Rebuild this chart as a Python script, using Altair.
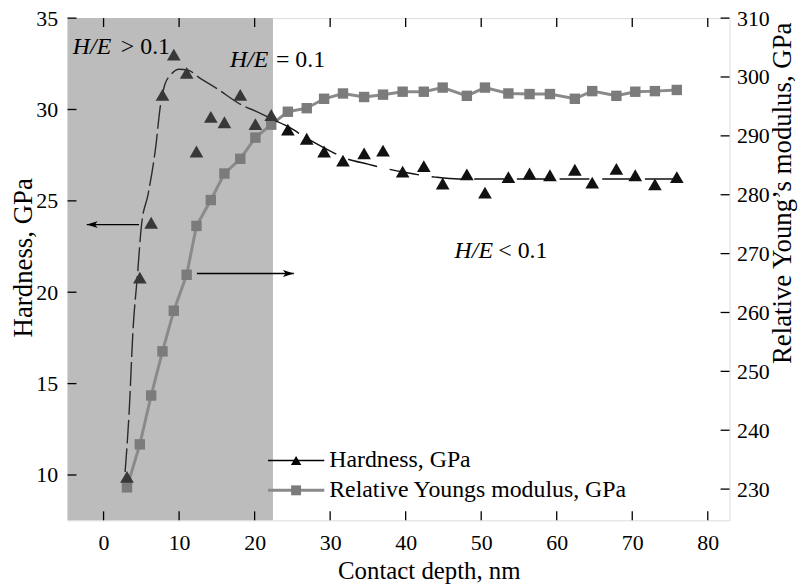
import altair as alt
import pandas as pd

# ---------------- data ----------------
depth = [3.1, 4.8, 6.3, 7.8, 9.3, 11.0, 12.3, 14.2, 16.0, 18.1, 20.1, 22.2,
         24.4, 26.9, 29.2, 31.7, 34.5, 37.0, 39.6, 42.4, 44.9, 48.1, 50.5,
         53.6, 56.4, 59.1, 62.4, 64.7, 67.9, 70.4, 73.0, 75.9]
hardness = [9.9, 20.8, 23.8, 30.8, 33.0, 32.0, 27.7, 29.6, 29.3, 30.8, 29.2, 29.7,
            28.9, 28.4, 27.7, 27.2, 27.6, 27.75, 26.6, 26.9, 25.95, 26.45, 25.45,
            26.3, 26.5, 26.4, 26.7, 26.0, 26.75, 26.4, 25.9, 26.3]
modulus = [230.3, 237.6, 245.9, 253.4, 260.3, 266.4, 274.7, 279.1, 283.6, 286.1, 289.7, 291.9,
           294.1, 294.7, 296.3, 297.2, 296.6, 297.0, 297.5, 297.5, 298.2, 296.8, 298.2,
           297.2, 297.1, 297.1, 296.3, 297.6, 296.8, 297.5, 297.6, 297.8]

# dashed guide curve through the hardness data
fit_in_x = [2.85, 3.38, 3.9, 4.5, 5.0, 5.9, 6.89, 7.54, 8.1, 8.9, 10.0, 11.2, 12.8, 14.8, 18.5, 20.2, 22.4]
fit_in_h = [10.16, 13.4, 17.95, 21.0, 23.6, 25.37, 27.9, 30.26, 31.35, 31.9, 32.2, 32.15, 31.7, 31.2, 30.2, 29.9, 29.45]
fit_out_x = [22.4, 24.4, 27.0, 29.2, 31.9, 35.1, 37.0, 40.0, 43.9, 47.0, 76.5]
fit_out_h = [29.45, 29.07, 28.4, 27.9, 27.35, 27.0, 26.8, 26.55, 26.3, 26.2, 26.2]

# shaded H/E > 0.1 zone (depth range)
shade_from = [-4.77]
shade_to = [22.43]

# annotations
ann_italic = ["H/E", "H/E", "H/E"]
ann_italic_x = [-4.07, 16.74, 46.48]
ann_rest = ["> 0.1", "= 0.1", "< 0.1"]
ann_rest_x = [2.29, 22.83, 52.26]
ann_y = [33.05, 32.33, 21.85]

# arrows (depth from, depth to, hardness level)
arrow_x0 = [-2.23, 12.35]
arrow_x1 = [4.69, 25.19]
arrow_y = [23.70, 21.02]

# legend
leg_labels = ["Hardness, GPa", "Relative Youngs modulus, GPa"]
leg_y = [10.79, 9.16]
leg_x0 = [21.77, 21.77]
leg_x1 = [29.22, 29.22]
leg_mark_x = [25.49, 25.49]
leg_text_x = [29.88, 29.88]

# ticks
x_ticks = [0, 10, 20, 30, 40, 50, 60, 70, 80]
h_ticks = [10, 15, 20, 25, 30, 35]
e_ticks = [230, 240, 250, 260, 270, 280, 290, 300, 310]

# ---------------- layout / style ----------------
W, H = 667, 506
FONT = "'Liberation Serif', 'Times New Roman', Times, serif"
X_DOM = [-4.77, 82.88]
H_DOM = [7.52, 35]
E_DOM = [224.7, 310]
TICK = 9

xs = alt.Scale(domain=X_DOM, nice=False, zero=False)
hs = alt.Scale(domain=H_DOM, nice=False, zero=False)
es = alt.Scale(domain=E_DOM, nice=False, zero=False)

df = pd.DataFrame({"depth": depth, "hardness": hardness, "modulus": modulus})
df["zone"] = ["in" if d < shade_to[0] else "out" for d in depth]

x_axis = alt.Axis(values=x_ticks, ticks=False, domain=False, grid=False,
                  labelFont=FONT, labelFontSize=22, labelColor="black", labelPadding=12,
                  title="Contact depth, nm", titleFont=FONT, titleFontSize=25,
                  titleFontWeight="normal", titleColor="black",
                  titleX=364, titleY=59, titleAlign="center", titleBaseline="alphabetic")
left_axis = alt.Axis(values=h_ticks, ticks=False, domain=False, grid=False,
                     labelFont=FONT, labelFontSize=22, labelColor="black", labelPadding=10,
                     title="Hardness, GPa", titleFont=FONT, titleFontSize=27,
                     titleFontWeight="normal", titleColor="black", titleAngle=270,
                     titleX=-44, titleY=241, titleAlign="center", titleBaseline="middle")
right_axis = alt.Axis(orient="right", values=e_ticks, ticks=False, domain=False, grid=False,
                      labelFont=FONT, labelFontSize=22, labelColor="black", labelPadding=7,
                      title="Relative Young\u2019s modulus, GPa", titleFont=FONT, titleFontSize=27,
                      titleFontWeight="normal", titleColor="black", titleAngle=270,
                      titleX=53, titleY=176, titleAlign="center", titleBaseline="middle")


def X(field):
    return alt.X(field, scale=xs, axis=x_axis)


shade = alt.Chart(pd.DataFrame({"a": shade_from, "b": shade_to})).mark_rect(
    color="#bcbcbc").encode(
    x=X("a:Q"), x2="b:Q",
    y=alt.value(0), y2=alt.value(H))

mod_line = alt.Chart(df).mark_line(color="#8a8a8a", strokeWidth=3).encode(
    x=X("depth:Q"),
    y=alt.Y("modulus:Q", scale=es, axis=right_axis))
mod_pts = alt.Chart(df).mark_square(size=110, color="#7b7b7b", opacity=1).encode(
    x=X("depth:Q"),
    y=alt.Y("modulus:Q", scale=es, axis=None))

fit_in = alt.Chart(pd.DataFrame({"x": fit_in_x, "h": fit_in_h})).mark_line(
    color="#2a2a2a", strokeWidth=1.4, strokeDash=[24, 5], interpolate="monotone").encode(
    x=X("x:Q"),
    y=alt.Y("h:Q", scale=hs, axis=None))
fit_out = alt.Chart(pd.DataFrame({"x": fit_out_x, "h": fit_out_h})).mark_line(
    color="#111111", strokeWidth=1.4, strokeDash=[30, 13], interpolate="monotone").encode(
    x=X("x:Q"),
    y=alt.Y("h:Q", scale=hs, axis=None))

tri = alt.Chart(df).mark_point(shape="triangle-up", filled=True, size=190, opacity=1,
                               strokeWidth=0).encode(
    x=X("depth:Q"),
    y=alt.Y("hardness:Q", scale=hs, axis=left_axis),
    color=alt.Color("zone:N", scale=alt.Scale(domain=["in", "out"],
                                              range=["#383838", "#111111"]), legend=None))

arr_df = pd.DataFrame({"x0": arrow_x0, "x1": arrow_x1, "y": arrow_y})
arrows = alt.Chart(arr_df).mark_rule(color="black", strokeWidth=1.5).encode(
    x=X("x0:Q"), x2="x1:Q",
    y=alt.Y("y:Q", scale=hs, axis=None))
head_left = alt.Chart(arr_df.iloc[[0]]).mark_point(
    shape="M0,0L1,-0.32L0.75,0L1,0.32Z", size=484, filled=True, opacity=1,
    color="black", strokeWidth=0).encode(
    x=X("x0:Q"), y=alt.Y("y:Q", scale=hs, axis=None))
head_right = alt.Chart(arr_df.iloc[[1]]).mark_point(
    shape="M0,0L-1,-0.32L-0.75,0L-1,0.32Z", size=484, filled=True, opacity=1,
    color="black", strokeWidth=0).encode(
    x=X("x1:Q"), y=alt.Y("y:Q", scale=hs, axis=None))

ann_df = pd.DataFrame({"xi": ann_italic_x, "ti": ann_italic, "xr": ann_rest_x,
                       "tr": ann_rest, "y": ann_y})
ann_i = alt.Chart(ann_df).mark_text(font=FONT, fontSize=24, fontStyle="italic",
                                    align="left", baseline="alphabetic", color="black").encode(
    x=X("xi:Q"), y=alt.Y("y:Q", scale=hs, axis=None), text="ti:N")
ann_r = alt.Chart(ann_df).mark_text(font=FONT, fontSize=24, align="left",
                                    baseline="alphabetic", color="black").encode(
    x=X("xr:Q"), y=alt.Y("y:Q", scale=hs, axis=None), text="tr:N")

leg_df = pd.DataFrame({"label": leg_labels, "y": leg_y, "x0": leg_x0, "x1": leg_x1,
                       "xm": leg_mark_x, "xt": leg_text_x})
leg_line_h = alt.Chart(leg_df.iloc[[0]]).mark_rule(color="black", strokeWidth=1.6).encode(
    x=X("x0:Q"), x2="x1:Q", y=alt.Y("y:Q", scale=hs, axis=None))
leg_line_e = alt.Chart(leg_df.iloc[[1]]).mark_rule(color="#8a8a8a", strokeWidth=3).encode(
    x=X("x0:Q"), x2="x1:Q", y=alt.Y("y:Q", scale=hs, axis=None))
leg_tri = alt.Chart(leg_df.iloc[[0]]).mark_point(shape="triangle-up", filled=True, size=110,
                                                 opacity=1, color="black", strokeWidth=0).encode(
    x=X("xm:Q"), y=alt.Y("y:Q", scale=hs, axis=None))
leg_sq = alt.Chart(leg_df.iloc[[1]]).mark_square(size=100, opacity=1, color="#7b7b7b").encode(
    x=X("xm:Q"), y=alt.Y("y:Q", scale=hs, axis=None))
leg_txt = alt.Chart(leg_df).mark_text(font=FONT, fontSize=24, align="left", baseline="middle",
                                      color="black").encode(
    x=X("xt:Q"), y=alt.Y("y:Q", scale=hs, axis=None), text="label:N")

xt_df = pd.DataFrame({"v": x_ticks})
ticks_bottom = alt.Chart(xt_df).mark_rule(color="black", strokeWidth=1.3).encode(
    x=X("v:Q"), y=alt.value(H), y2=alt.value(H - TICK))
ticks_top = alt.Chart(xt_df).mark_rule(color="black", strokeWidth=1.3).encode(
    x=X("v:Q"), y=alt.value(0), y2=alt.value(TICK))
ticks_left = alt.Chart(pd.DataFrame({"v": h_ticks})).mark_rule(color="black", strokeWidth=1.3).encode(
    y=alt.Y("v:Q", scale=hs, axis=None), x=alt.value(0), x2=alt.value(TICK))
ticks_right = alt.Chart(pd.DataFrame({"v": e_ticks})).mark_rule(color="black", strokeWidth=1.3).encode(
    y=alt.Y("v:Q", scale=es, axis=None), x=alt.value(W), x2=alt.value(W - TICK))

chart = alt.layer(
    shade, mod_line, mod_pts, fit_in, fit_out, tri, arrows, head_left, head_right,
    ann_i, ann_r, leg_line_h, leg_line_e, leg_tri, leg_sq, leg_txt,
    ticks_bottom, ticks_top, ticks_left, ticks_right,
).resolve_scale(y="independent").properties(
    width=W, height=H,
    autosize=alt.AutoSizeParams(type="none"),
    padding={"left": 60, "top": 8, "right": 70, "bottom": 64},
).configure_view(stroke="black", strokeWidth=1.5).configure(font=FONT)

chart.save("out.html", embed_options={"renderer": "svg", "actions": False})
